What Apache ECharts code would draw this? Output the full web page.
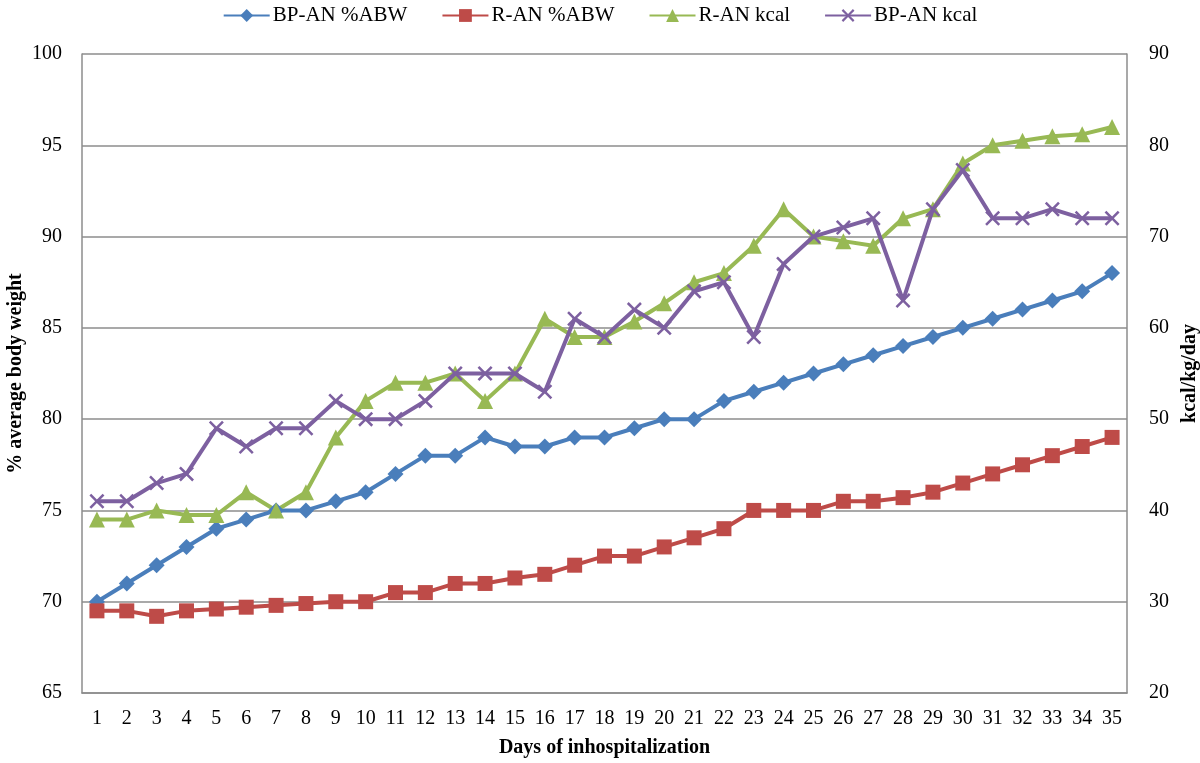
<!DOCTYPE html>
<html>
<head>
<meta charset="utf-8">
<script src="https://cdn.jsdelivr.net/npm/echarts@6/dist/echarts.min.js"></script>
<style>html,body{margin:0;padding:0;background:#fff;}#chart{width:1200px;height:763px;}</style>
</head>
<body>
<div id="chart"></div>
<script>
const days = ['1','2','3','4','5','6','7','8','9','10','11','12','13','14','15','16','17','18','19','20','21','22','23','24','25','26','27','28','29','30','31','32','33','34','35'];
const bpAbw = [70,71,72,73,74,74.5,75,75,75.5,76,77,78,78,79,78.5,78.5,79,79,79.5,80,80,81,81.5,82,82.5,83,83.5,84,84.5,85,85.5,86,86.5,87,88];
const rAbw = [69.5,69.5,69.2,69.5,69.6,69.7,69.8,69.9,70,70,70.5,70.5,71,71,71.3,71.5,72,72.5,72.5,73,73.5,74,75,75,75,75.5,75.5,75.7,76,76.5,77,77.5,78,78.5,79];
const rKcal = [39,39,40,39.5,39.5,42,40,42,48,52,54,54,55,52,55,61,59,59,60.7,62.7,65,66,69,73,70,69.5,69,72,73,78,80,80.5,81,81.2,82];
const bpKcal = [41,41,43,44,49,47,49,49,52,50,50,52,55,55,55,53,61,59,62,60,64,65,59,67,70,71,72,63,73,77.3,72,72,73,72,72];
const leftTicks = {min:65, max:100, interval:5};
const rightTicks = {min:20, max:90, interval:10};

const serif = 'Liberation Serif';
const xSymbol = 'path://M0,1.2 L1.2,0 L5,3.8 L8.8,0 L10,1.2 L6.2,5 L10,8.8 L8.8,10 L5,6.2 L1.2,10 L0,8.8 L3.8,5 Z';

const chart = echarts.init(document.getElementById('chart'));
chart.setOption({
  animation:false,
  backgroundColor:'#fff',
  textStyle:{fontFamily:serif, color:'#000'},
  legend:{
    top:0, left:'center', itemWidth:46, itemHeight:16, itemGap:34,
    textStyle:{fontFamily:serif, fontSize:21, color:'#000', padding:[0,0,0,-2]},
    data:['BP-AN %ABW','R-AN %ABW','R-AN kcal','BP-AN kcal']
  },
  grid:{left:82, right:73, top:54, bottom:70, outerBoundsMode:'none', containLabel:false},
  xAxis:{
    type:'category', data:days, boundaryGap:true,
    axisLine:{show:true, lineStyle:{color:'#8c8c8c', width:1.5}},
    axisTick:{show:false},
    axisLabel:{fontFamily:serif, fontSize:20, color:'#000', margin:16, interval:0},
    name:'Days of inhospitalization', nameLocation:'middle', nameGap:45,
    nameTextStyle:{fontFamily:serif, fontSize:20, fontWeight:'bold', color:'#000'}
  },
  yAxis:[{
    type:'value', min:leftTicks.min, max:leftTicks.max, interval:leftTicks.interval,
    position:'left',
    axisLine:{show:true, lineStyle:{color:'#8c8c8c', width:1.5}},
    axisTick:{show:false},
    splitLine:{show:true, lineStyle:{color:'#8c8c8c', width:1.5}},
    axisLabel:{fontFamily:serif, fontSize:20, color:'#000', margin:20},
    name:'% average body weight', nameLocation:'middle', nameGap:56, nameRotate:90, nameMoveOverlap:false,
    nameTextStyle:{fontFamily:serif, fontSize:20, fontWeight:'bold', color:'#000'}
  },{
    type:'value', min:rightTicks.min, max:rightTicks.max, interval:rightTicks.interval,
    position:'right',
    axisLine:{show:true, lineStyle:{color:'#8c8c8c', width:1.5}},
    axisTick:{show:false},
    splitLine:{show:false},
    axisLabel:{fontFamily:serif, fontSize:20, color:'#000', margin:22},
    name:'kcal/kg/day', nameLocation:'middle', nameGap:53, nameRotate:90, nameMoveOverlap:false,
    nameTextStyle:{fontFamily:serif, fontSize:20, fontWeight:'bold', color:'#000'}
  }],
  series:[
    {name:'BP-AN %ABW', type:'line', yAxisIndex:0, data:bpAbw, symbol:'diamond', symbolSize:16,
     lineStyle:{color:'#4a7ebb', width:4}, itemStyle:{color:'#4a7ebb'}, z:3},
    {name:'R-AN %ABW', type:'line', yAxisIndex:0, data:rAbw, symbol:'rect', symbolSize:15,
     lineStyle:{color:'#be4b48', width:4}, itemStyle:{color:'#be4b48'}, z:3},
    {name:'R-AN kcal', type:'line', yAxisIndex:1, data:rKcal, symbol:'triangle', symbolSize:16,
     lineStyle:{color:'#98b954', width:4}, itemStyle:{color:'#98b954'}, z:3},
    {name:'BP-AN kcal', type:'line', yAxisIndex:1, data:bpKcal, symbol:xSymbol, symbolSize:15,
     lineStyle:{color:'#7d60a0', width:4}, itemStyle:{color:'#7d60a0'}, z:4}
  ]
});
</script>
</body>
</html>
